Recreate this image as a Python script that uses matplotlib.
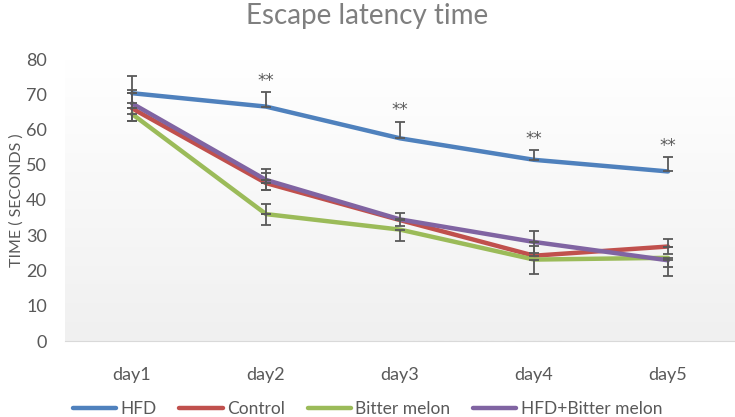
import matplotlib.pyplot as plt
import matplotlib.colors as mcolors
import numpy as np

plt.rcParams['font.family'] = ['Lato', 'DejaVu Sans']

days = ['day1', 'day2', 'day3', 'day4', 'day5']
series_names = ['HFD', 'Control', 'Bitter melon', 'HFD+Bitter melon']

hfd = [70.3, 66.5, 57.5, 51.4, 48.1]
control = [66.0, 44.8, 34.3, 24.2, 26.8]
bitter = [64.4, 36.0, 31.6, 23.1, 23.6]
hfd_bm = [67.4, 45.7, 34.5, 28.1, 22.9]

# error bars (lower / upper)
hfd_lo = [4.3, 0, 0, 0, 0]
hfd_hi = [5.0, 4.0, 4.7, 2.8, 4.0]
control_lo = [3.5, 2.0, 1.7, 0, 2.0]
control_hi = [0, 2.8, 0, 2.8, 2.0]
bitter_lo = [2.0, 3.0, 3.2, 4.0, 2.5]
bitter_hi = [0, 3.0, 0, 0, 0]
hfd_bm_lo = [0, 3.0, 0, 3.0, 4.4]
hfd_bm_hi = [3.8, 3.1, 1.8, 3.0, 0]

stars = ['', '**', '**', '**', '**']

colors = ['#4f81bd', '#c0504d', '#9bbb59', '#8064a2']
err_color = '#595959'
text_color = '#595959'

fig = plt.figure(figsize=(7.35, 4.17), dpi=100)
ax = fig.add_axes([65 / 735, 1 - 341 / 417, 670 / 735, 282 / 417])

x = np.arange(len(days))
ax.set_xlim(-0.5, len(days) - 0.5)
ax.set_ylim(0, 80)

# plot area gradient
grad = np.linspace(0, 1, 256).reshape(-1, 1)
cmap = mcolors.LinearSegmentedColormap.from_list('g', ['#f0f0f0', '#ffffff'])
ax.imshow(grad, extent=[-0.5, len(days) - 0.5, 0, 80], aspect='auto',
          cmap=cmap, origin='lower', zorder=0)

all_vals = [hfd, control, bitter, hfd_bm]
all_lo = [hfd_lo, control_lo, bitter_lo, hfd_bm_lo]
all_hi = [hfd_hi, control_hi, bitter_hi, hfd_bm_hi]
for vals, lo, hi, c, name in zip(all_vals, all_lo, all_hi, colors, series_names):
    vals = np.array(vals)
    ax.plot(x, vals, color=c, lw=3.2, label=name, zorder=3,
            solid_capstyle='round')
    for errs, upper in [(np.array(lo), False), (np.array(hi), True)]:
        m = errs > 0
        yerr = [np.zeros(m.sum()), errs[m]] if upper else [errs[m], np.zeros(m.sum())]
        ax.errorbar(x[m], vals[m], yerr=yerr, fmt='none', ecolor=err_color,
                    elinewidth=1.3, capsize=3.5, capthick=1.3, zorder=4)

for xi, v, e, s in zip(x, hfd, hfd_hi, stars):
    if s:
        ax.text(xi, v + e + 3.2, s, ha='center', va='center',
                fontsize=12, color=text_color, family='DejaVu Sans')

ax.set_xticks(x)
ax.set_xticklabels(days)
ax.set_yticks(range(0, 81, 10))
ax.tick_params(length=0, labelsize=13, colors=text_color)
ax.tick_params(axis='y', pad=13)
ax.tick_params(axis='x', pad=19)
for side in ['top', 'right', 'left']:
    ax.spines[side].set_visible(False)
ax.spines['bottom'].set_color('#d9d9d9')
ax.set_ylabel('TIME ( SECONDS )', fontsize=11.5, color=text_color, labelpad=2)

fig.text(0.5, 0.962, 'Escape latency time', ha='center', va='center',
         fontsize=20, color='#7f7f7f')

fig.legend(loc='center', bbox_to_anchor=(0.5, 0.02), ncol=4, frameon=False,
           handlelength=2.5, columnspacing=1.3, handletextpad=0.25,
           fontsize=12.5, labelcolor=text_color)

fig.savefig('out.png', dpi=100)
